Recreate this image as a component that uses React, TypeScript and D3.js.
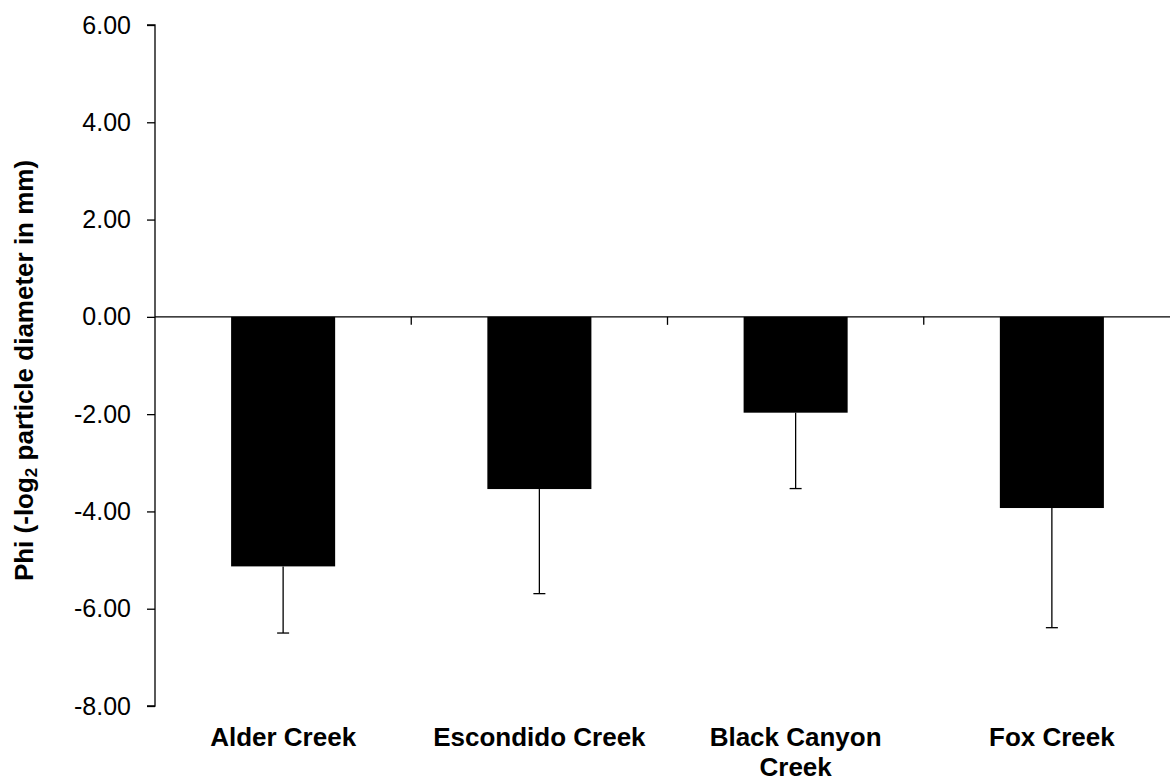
import React, { useEffect, useRef } from 'react';
import * as d3 from 'd3';

const creeks = ['Alder Creek', 'Escondido Creek', 'Black Canyon Creek', 'Fox Creek'];
const phiMeans = [-5.13, -3.54, -1.97, -3.93];
const phiErrors = [1.37, 2.15, 1.56, 2.46];
const yTicks = [-8, -6, -4, -2, 0, 2, 4, 6];

const FONT = '"Liberation Sans", Arial, sans-serif';

const App = () => {
  const svgRef = useRef<SVGSVGElement>(null);

  useEffect(() => {
    const svg = d3.select(svgRef.current);
    svg.selectAll('*').remove();

    const width = 1170;
    const height = 783;
    const left = 155;
    const right = 1180; // plot area runs off the right edge
    const top = 25;
    const bottom = 706;

    const data = creeks.map((name, i) => ({ name, mean: phiMeans[i], err: phiErrors[i] }));

    const x = d3.scaleBand().domain(creeks).range([left, right]).padding(0);
    const y = d3.scaleLinear().domain([-8, 6]).range([bottom, top]);
    const barW = x.bandwidth() * 0.406;

    svg.attr('width', width).attr('height', height);

    // y axis, hyphen minus like the original
    const yAxis = svg.append('g')
      .attr('transform', `translate(${left},0)`)
      .call(d3.axisLeft(y).tickValues(yTicks).tickSize(8).tickPadding(16)
        .tickFormat(d => (+d).toFixed(2)));
    yAxis.select('.domain').attr('stroke', '#000').attr('stroke-width', 1.3).attr('d', `M-8,${top}H0V${bottom}H-8`);
    yAxis.selectAll('.tick line').attr('stroke', '#000').attr('stroke-width', 1.3);
    yAxis.selectAll('.tick text')
      .attr('fill', '#000')
      .style('font-family', FONT)
      .style('font-size', '25px');

    // bars
    svg.selectAll('.bar')
      .data(data)
      .enter()
      .append('rect')
      .attr('class', 'bar')
      .attr('x', d => x(d.name)! + (x.bandwidth() - barW) / 2)
      .attr('y', y(0))
      .attr('width', barW)
      .attr('height', d => y(d.mean) - y(0))
      .attr('fill', '#000');

    // error bars (downward only)
    const err = svg.selectAll('.err').data(data).enter().append('g').attr('class', 'err');
    err.append('line')
      .attr('x1', d => x(d.name)! + x.bandwidth() / 2)
      .attr('x2', d => x(d.name)! + x.bandwidth() / 2)
      .attr('y1', d => y(d.mean))
      .attr('y2', d => y(d.mean - d.err))
      .attr('stroke', '#000')
      .attr('stroke-width', 1.3);
    err.append('line')
      .attr('x1', d => x(d.name)! + x.bandwidth() / 2 - 6)
      .attr('x2', d => x(d.name)! + x.bandwidth() / 2 + 6)
      .attr('y1', d => y(d.mean - d.err))
      .attr('y2', d => y(d.mean - d.err))
      .attr('stroke', '#000')
      .attr('stroke-width', 1.3);

    // x axis at zero with ticks between categories
    const xAxis = svg.append('g').attr('transform', `translate(0,${y(0)})`);
    xAxis.append('line')
      .attr('x1', left).attr('x2', right)
      .attr('stroke', '#000').attr('stroke-width', 1.3);
    xAxis.selectAll('.xtick')
      .data(creeks.slice(1))
      .enter()
      .append('line')
      .attr('x1', d => x(d)!).attr('x2', d => x(d)!)
      .attr('y1', 0).attr('y2', 8)
      .attr('stroke', '#000').attr('stroke-width', 1.3);

    // category labels below the plot, wrapped
    svg.selectAll('.xlabel')
      .data(creeks)
      .enter()
      .append('text')
      .attr('class', 'xlabel')
      .attr('x', d => x(d)! + x.bandwidth() / 2)
      .attr('y', 746)
      .attr('text-anchor', 'middle')
      .style('font-family', FONT)
      .style('font-size', '26px')
      .style('font-weight', 'bold')
      .each(function (d) {
        const text = d3.select(this);
        const words = d.split(' ');
        const cx = x(d)! + x.bandwidth() / 2;
        let line: string[] = [];
        let tspan = text.append('tspan').attr('x', cx).attr('dy', 0);
        words.forEach(w => {
          line.push(w);
          tspan.text(line.join(' '));
          if ((tspan.node() as SVGTSpanElement).getComputedTextLength() > 230 && line.length > 1) {
            line.pop();
            tspan.text(line.join(' '));
            line = [w];
            tspan = text.append('tspan').attr('x', cx).attr('dy', 30).text(w);
          }
        });
      });

    // y axis title
    const title = svg.append('text')
      .attr('transform', `translate(33, ${(top + bottom) / 2 + 5}) rotate(-90)`)
      .attr('text-anchor', 'middle')
      .attr('fill', '#000')
      .style('font-family', FONT)
      .style('font-size', '26px')
      .style('font-weight', 'bold');
    title.append('tspan').text('Phi (-log');
    title.append('tspan').attr('baseline-shift', '-25%').style('font-size', '17px').text('2');
    title.append('tspan').text(' particle diameter in mm)');
  }, []);

  return <svg ref={svgRef} style={{ position: 'absolute', left: 0, top: 0 }}></svg>;
};

export default App;
